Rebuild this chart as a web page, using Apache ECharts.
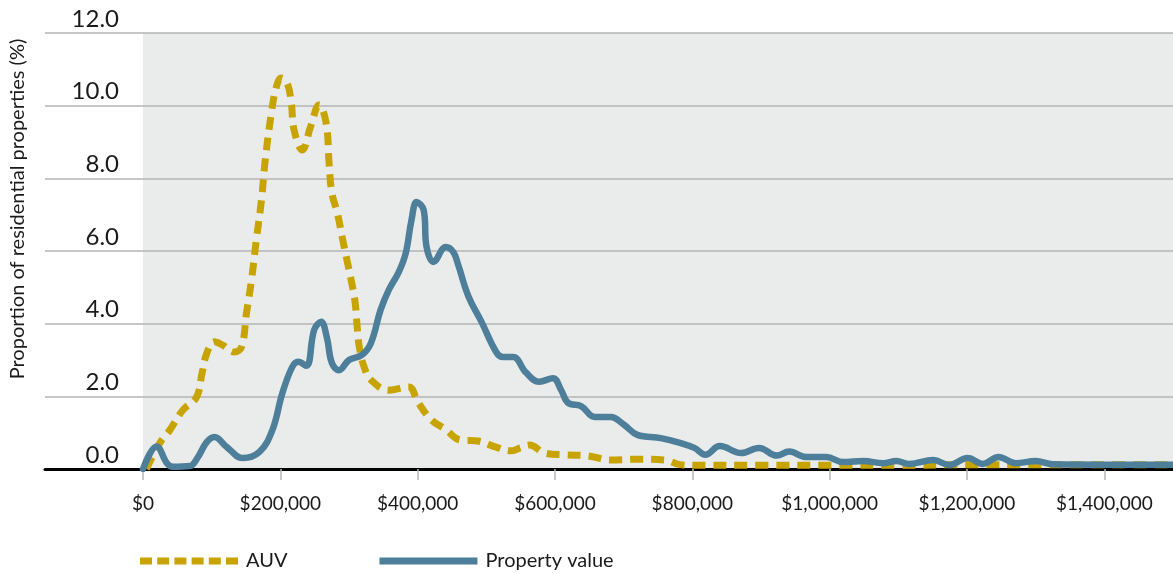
<!DOCTYPE html>
<html>
<head>
<meta charset="utf-8">
<script src="https://cdn.jsdelivr.net/npm/echarts@6/dist/echarts.min.js"></script>
<style>
html,body{margin:0;padding:0;background:#fff;}
#chart{width:1173px;height:574px;}
</style>
</head>
<body>
<div id="chart"></div>
<script>
// ---- data ----
const seriesNames = ['AUV', 'Property value'];
const yTitle = 'Proportion of residential properties (%)';

const auvX = [5000, 24600, 39000, 58000, 78000, 86000, 93000, 104000, 116000, 133000, 143500, 150700, 158000, 165000, 172500, 178000, 187000, 194000, 201500, 210000, 216000, 220000, 232000, 244000, 256500, 266700, 271000, 275000, 283000, 290000, 297000, 304000, 309000, 312000, 315000, 322000, 332000, 358000, 387000, 400000, 420000, 440000, 462000, 488000, 513000, 536000, 549000, 563000, 585000, 614000, 648000, 681000, 720000, 759000, 782000, 800000, 900000, 1000000, 1100000, 1200000, 1300000, 1400000, 1500000];
const auvY = [0, 0.72, 1.07, 1.62, 1.98, 2.64, 3.19, 3.5, 3.41, 3.22, 3.36, 4.29, 5.2, 6.3, 7.4, 8.5, 9.8, 10.5, 10.76, 10.62, 10.07, 9.33, 8.78, 9.42, 10.02, 9.52, 8.42, 7.6, 7.05, 6.39, 5.75, 5.12, 4.57, 3.9, 3.36, 2.81, 2.45, 2.17, 2.26, 1.85, 1.35, 1.1, 0.8, 0.77, 0.61, 0.5, 0.58, 0.66, 0.44, 0.39, 0.36, 0.25, 0.27, 0.25, 0.12, 0.1, 0.1, 0.1, 0.1, 0.12, 0.12, 0.12, 0.12];

const pvX = [0, 20000, 34800, 43500, 68000, 80000, 92800, 104000, 121700, 145000, 169600, 188400, 203000, 217400, 226000, 238000, 249300, 259400, 268000, 275000, 285500, 300000, 318800, 332000, 346000, 358000, 372400, 382600, 391000, 398500, 408700, 413000, 423000, 441000, 452000, 459000, 474000, 493000, 515000, 524600, 539000, 558000, 577000, 597000, 609000, 619000, 638000, 658000, 681000, 701000, 720000, 754000, 782000, 803000, 819000, 840000, 871000, 897000, 923000, 941000, 966000, 995000, 1020000, 1049000, 1078000, 1097000, 1116000, 1151000, 1174000, 1201000, 1223000, 1246000, 1271000, 1300000, 1325000, 1400000, 1500000];
const pvY = [0, 0.62, 0.16, 0.06, 0.08, 0.33, 0.74, 0.88, 0.61, 0.3, 0.47, 1.07, 2.09, 2.81, 2.95, 2.84, 3.83, 4.05, 3.6, 2.92, 2.72, 3.0, 3.14, 3.47, 4.38, 4.93, 5.42, 5.94, 6.85, 7.35, 7.13, 6.11, 5.7, 6.11, 5.97, 5.62, 4.75, 4.05, 3.2, 3.08, 3.08, 2.65, 2.4, 2.5, 2.17, 1.82, 1.73, 1.43, 1.43, 1.21, 0.94, 0.85, 0.72, 0.58, 0.39, 0.63, 0.44, 0.58, 0.37, 0.48, 0.33, 0.33, 0.19, 0.22, 0.16, 0.22, 0.14, 0.25, 0.11, 0.3, 0.14, 0.33, 0.16, 0.22, 0.13, 0.12, 0.12];

const yMin = 0, yMax = 12, yStep = 2;
const xMin = 0, xMax = 1500000, xStep = 200000;

// ---- chart ----
const FONT = 'Lato';
const GOLD = '#C8A400';
const BLUE = '#4D7E9A';

const chart = echarts.init(document.getElementById('chart'), null, {renderer: 'canvas'});

function fmtMoney(v) {
  return '$' + Math.round(v).toString().replace(/\B(?=(\d{3})+(?!\d))/g, ',');
}

// dashed legend swatch: six dashes
const dashIcon = 'path://M0,0h12v7h-12z M17.2,0h12v7h-12z M34.4,0h12v7h-12z M51.6,0h12v7h-12z M68.8,0h12v7h-12z M86,0h12v7h-12z';

chart.setOption({
  animation: false,
  backgroundColor: '#ffffff',
  textStyle: {fontFamily: FONT},
  grid: [
    {left: 45, right: 0, top: 33, bottom: 105, show: false},
    {left: 143, right: -5, top: 33, bottom: 105, show: true, backgroundColor: '#EAECEB', borderWidth: 0}
  ],
  xAxis: [
    {
      gridIndex: 0, type: 'value', min: 0, max: 1,
      axisLine: {show: true, lineStyle: {color: '#000', width: 3}},
      axisTick: {show: false}, axisLabel: {show: false}, splitLine: {show: false}
    },
    {
      gridIndex: 1, type: 'value', min: xMin, max: xMax, interval: xStep,
      axisLine: {show: false},
      axisTick: {show: true, length: 11, lineStyle: {color: '#B8B8B8', width: 1.5}},
      axisLabel: {
        show: true, margin: 25, fontSize: 19, color: '#1a1a1a', fontFamily: FONT,
        showMaxLabel: false, formatter: fmtMoney
      },
      splitLine: {show: false}
    }
  ],
  yAxis: [
    {
      gridIndex: 0, type: 'value', min: yMin, max: yMax, interval: yStep,
      axisLine: {show: false}, axisTick: {show: false},
      splitLine: {show: true, lineStyle: {color: '#B5B5B5', width: 1.5}},
      axisLabel: {
        show: true, inside: true, margin: 74, align: 'right', verticalAlign: 'bottom',
        padding: [0, 0, 2, 0],
        fontSize: 24, color: '#1a1a1a', fontFamily: FONT,
        formatter: v => v.toFixed(1)
      }
    },
    {
      gridIndex: 1, type: 'value', min: yMin, max: yMax, interval: yStep,
      show: false, splitLine: {show: false}
    }
  ],
  legend: {
    left: 135, top: 546,
    itemWidth: 98, itemHeight: 7, itemGap: 92,
    textStyle: {fontSize: 20, color: '#1a1a1a', fontFamily: FONT, padding: [0, 0, 0, 3]},
    data: [
      {name: seriesNames[0], icon: dashIcon},
      {name: seriesNames[1], icon: 'rect'}
    ]
  },
  graphic: [{
    type: 'text',
    x: 18, y: 209, rotation: Math.PI / 2,
    style: {
      text: yTitle, fontSize: 20, fontFamily: FONT, fill: '#1a1a1a',
      align: 'center', verticalAlign: 'middle'
    }
  }],
  series: [
    {
      name: seriesNames[0], type: 'line', xAxisIndex: 1, yAxisIndex: 1,
      data: auvX.map((x, i) => [x, auvY[i]]),
      smooth: 0.4, symbol: 'none', showSymbol: false,
      lineStyle: {color: GOLD, width: 7, type: [13, 8], cap: 'butt'},
      itemStyle: {color: GOLD},
      z: 3
    },
    {
      name: seriesNames[1], type: 'line', xAxisIndex: 1, yAxisIndex: 1,
      data: pvX.map((x, i) => [x, pvY[i]]),
      smooth: 0.4, symbol: 'none', showSymbol: false,
      lineStyle: {color: BLUE, width: 6.5, cap: 'round', join: 'round'},
      itemStyle: {color: BLUE},
      z: 4
    }
  ]
});
</script>
</body>
</html>
